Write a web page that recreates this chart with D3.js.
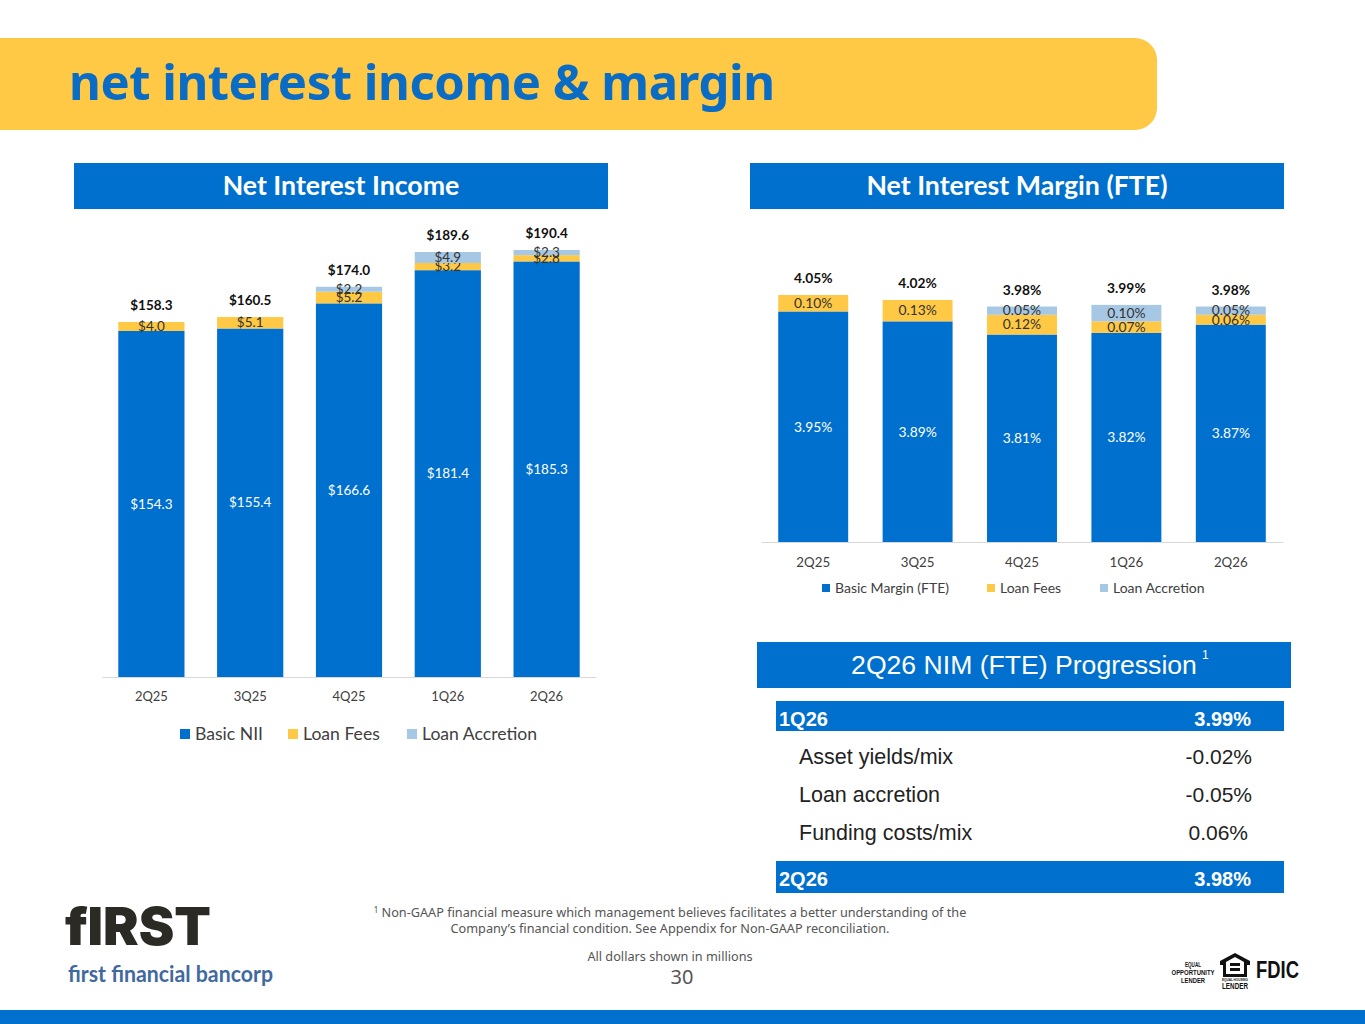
<!DOCTYPE html>
<html>
<head>
<meta charset="utf-8">
<title>net interest income & margin</title>
<script src="https://cdn.jsdelivr.net/npm/d3@7"></script>
<style>
  body { margin: 0; background: #fff; }
  svg { display: block; }
  text { font-family: Lato, sans-serif; }
  .arial text, text.arial { font-family: "Liberation Sans", Arial, sans-serif; }
  .head { font-family: Lato, sans-serif; font-weight: 700; fill: #fff; }
</style>
</head>
<body>
<svg id="slide" width="1365" height="1024"></svg>
<script>
const quarters = ['2Q25', '3Q25', '4Q25', '1Q26', '2Q26'];

// net interest income, $ millions
const basicNii = [154.3, 155.4, 166.6, 181.4, 185.3];
const niiFees = [4.0, 5.1, 5.2, 3.2, 2.8];
const niiAccretion = [0, 0, 2.2, 4.9, 2.3];
const niiTotals = [158.3, 160.5, 174.0, 189.6, 190.4];

// net interest margin, %
const basicMargin = [3.95, 3.89, 3.81, 3.82, 3.87];
const nimFees = [0.10, 0.13, 0.12, 0.07, 0.06];
const nimAccretion = [0, 0, 0.05, 0.10, 0.05];
const nimTotals = [4.05, 4.02, 3.98, 3.99, 3.98];

const progressionLabels = ['Asset yields/mix', 'Loan accretion', 'Funding costs/mix'];
const progressionValues = ['-0.02%', '-0.05%', '0.06%'];

const BLUE = '#0070ce', YELLOW = '#ffc845', LIGHT = '#a6c8e4';

const svg = d3.select('#slide');

// title band, square on the left and rounded on the right
svg.append('path')
  .attr('d', 'M0,38H1135a22,22 0 0 1 22,22V108a22,22 0 0 1 -22,22H0Z')
  .attr('fill', YELLOW);
svg.append('text')
  .attr('x', 69).attr('y', 100)
  .attr('font-size', 49).attr('font-weight', 700)
  .style('font-family', '"Noto Sans", sans-serif')
  .attr('fill', '#0a6cc4')
  .attr('textLength', 706)
  .text('net interest income & margin');

function sectionHeader(x, y, label, arial) {
  svg.append('rect').attr('x', x).attr('y', y).attr('width', 534).attr('height', 46).attr('fill', BLUE);
  svg.append('text')
    .attr('class', arial ? 'arial' : 'head')
    .attr('x', x + 267).attr('y', y + 32)
    .attr('text-anchor', 'middle')
    .attr('font-size', arial ? 26.6 : 26.7)
    .attr('fill', '#fff')
    .text(label);
}
sectionHeader(74, 163, 'Net Interest Income');
sectionHeader(750, 163, 'Net Interest Margin (FTE)');
sectionHeader(757, 642, '2Q26 NIM (FTE) Progression', true);
svg.append('text').attr('class', 'arial').attr('x', 1202).attr('y', 659)
  .attr('font-size', 12).attr('fill', '#fff').text('1');

function stackedChart(o) {
  const x = d3.scaleBand().domain(quarters).range(o.xRange).paddingInner(0.33).paddingOuter(0.165);
  const y = d3.scaleLinear().domain(o.yDomain).range(o.yRange).clamp(true);

  const rows = quarters.map((q, i) => ({ q, basic: o.basic[i], fees: o.fees[i], accretion: o.accretion[i] }));
  const layers = d3.stack().keys(['basic', 'fees', 'accretion'])(rows);
  const colors = { basic: BLUE, fees: YELLOW, accretion: LIGHT };

  const g = svg.append('g');
  const layer = g.selectAll('g.layer').data(layers).join('g').attr('class', 'layer');

  layer.selectAll('rect')
    .data(d => d.map(p => ({ key: d.key, p })))
    .join('rect')
    .attr('x', d => x(d.p.data.q))
    .attr('width', x.bandwidth())
    .attr('y', d => y(d.p[1]))
    .attr('height', d => y(d.p[0]) - y(d.p[1]))
    .attr('fill', d => colors[d.key]);

  // segment labels, small ones overlap each other just like the original
  layer.selectAll('text')
    .data(d => d.map(p => ({ key: d.key, p, v: p.data[d.key] })).filter(d => d.v > 0))
    .join('text')
    .attr('x', d => x(d.p.data.q) + x.bandwidth() / 2)
    .attr('y', d => (y(d.p[0]) + y(d.p[1])) / 2)
    .attr('dy', '0.35em')
    .attr('text-anchor', 'middle')
    .attr('font-size', o.labelSize)
    .attr('fill', d => d.key === 'basic' ? '#fff' : '#333')
    .text(d => o.fmt(d.v));

  g.selectAll('text.total')
    .data(o.totals)
    .join('text')
    .attr('class', 'total')
    .attr('x', (d, i) => x(quarters[i]) + x.bandwidth() / 2)
    .attr('y', (d, i) => y(o.basic[i] + o.fees[i] + o.accretion[i]) - 12)
    .attr('text-anchor', 'middle')
    .attr('font-size', o.labelSize)
    .attr('font-weight', 700)
    .attr('fill', '#111')
    .text(o.fmt);

  const axis = g.append('g')
    .attr('transform', `translate(0,${o.yRange[0]})`)
    .call(d3.axisBottom(x).tickSize(0).tickPadding(o.tickPad));
  axis.select('.domain').attr('stroke', '#d9d9d9');
  axis.selectAll('text').attr('font-size', o.labelSize - 0.5).attr('fill', '#404040')
    .style('font-family', 'Lato, sans-serif');

  const legend = g.selectAll('g.key').data(o.legend).join('g').attr('class', 'key')
    .attr('transform', d => `translate(${d.x},${o.legendY})`);
  legend.append('rect').attr('y', -o.legendBox / 2).attr('width', o.legendBox).attr('height', o.legendBox)
    .attr('fill', d => d.color);
  legend.append('text').attr('x', o.legendBox + 5).attr('dy', '0.35em')
    .attr('font-size', o.legendSize).attr('fill', '#404040').text(d => d.label);
}

stackedChart({
  basic: basicNii, fees: niiFees, accretion: niiAccretion, totals: niiTotals,
  xRange: [102, 596], yDomain: [0, 190.4], yRange: [677, 250],
  fmt: v => '$' + v.toFixed(1), labelSize: 13.5, tickPad: 15,
  legend: [
    { label: 'Basic NII', color: BLUE, x: 180 },
    { label: 'Loan Fees', color: YELLOW, x: 288 },
    { label: 'Loan Accretion', color: LIGHT, x: 407 }
  ],
  legendY: 734, legendBox: 10, legendSize: 17.6
});

stackedChart({
  basic: basicMargin, fees: nimFees, accretion: nimAccretion, totals: nimTotals,
  xRange: [761, 1283], yDomain: [2.55, 4.05], yRange: [542, 295],
  fmt: v => v.toFixed(2) + '%', labelSize: 13.8, tickPad: 16,
  legend: [
    { label: 'Basic Margin (FTE)', color: BLUE, x: 822 },
    { label: 'Loan Fees', color: YELLOW, x: 987 },
    { label: 'Loan Accretion', color: LIGHT, x: 1100 }
  ],
  legendY: 588, legendBox: 8, legendSize: 14
});

// progression table
const table = svg.append('g').attr('class', 'arial');
[['1Q26', '3.99%', 701, 30], ['2Q26', '3.98%', 861, 32]].forEach(r => {
  table.append('rect').attr('x', 776).attr('y', r[2]).attr('width', 508).attr('height', r[3]).attr('fill', BLUE);
  table.append('text').attr('x', 779).attr('y', r[2] + 25).attr('font-size', 20).attr('font-weight', 700).attr('fill', '#fff').text(r[0]);
  table.append('text').attr('x', 1251).attr('y', r[2] + 25).attr('text-anchor', 'end').attr('font-size', 20).attr('font-weight', 700).attr('fill', '#fff').text(r[1]);
});
const rowY = d3.scalePoint().domain(progressionLabels).range([764, 840]);
table.selectAll('text.lab').data(progressionLabels).join('text').attr('class', 'lab')
  .attr('x', 799).attr('y', d => rowY(d)).attr('font-size', 21.5).attr('fill', '#222').text(d => d);
table.selectAll('text.val').data(progressionValues).join('text').attr('class', 'val')
  .attr('x', (d, i) => i === 2 ? 1248 : 1252)
  .attr('y', (d, i) => rowY(progressionLabels[i]))
  .attr('text-anchor', 'end').attr('font-size', 21).attr('fill', '#222').text(d => d);

// footnotes
const foot = svg.append('g').attr('text-anchor', 'middle').attr('fill', '#555').attr('font-size', 12.7)
  .style('font-family', '"Noto Sans", sans-serif');
foot.append('text').attr('x', 670).attr('y', 917).style('font-family', 'inherit')
  .html('<tspan font-size="8" dy="-4">1</tspan><tspan dy="4"> Non-GAAP financial measure which management believes facilitates a better understanding of the</tspan>');
foot.append('text').attr('x', 670).attr('y', 933).style('font-family', 'inherit')
  .text('Company\u2019s financial condition.  See Appendix for Non-GAAP reconciliation.');
foot.append('text').attr('x', 670).attr('y', 961).style('font-family', 'inherit')
  .text('All dollars shown in millions');
foot.append('text').attr('x', 682).attr('y', 984).attr('font-size', 20).style('font-family', 'inherit').text('30');

// logo
svg.append('text').attr('x', 65).attr('y', 945).attr('font-size', 52).attr('font-weight', 900)
  .style('font-family', 'Inter, sans-serif').attr('fill', '#2b2a25').attr('textLength', 146)
  .attr('lengthAdjust', 'spacingAndGlyphs').text('fIRST');
svg.append('text').attr('x', 68).attr('y', 982).attr('font-size', 22).attr('font-weight', 700)
  .attr('fill', '#41699f').attr('textLength', 205).attr('lengthAdjust', 'spacingAndGlyphs')
  .text('first financial bancorp');

// lender badges
const badge = svg.append('g').attr('fill', '#111');
['EQUAL', 'OPPORTUNITY', 'LENDER'].forEach((t, i) => {
  badge.append('text').attr('class', 'arial').attr('x', 1193).attr('y', 967 + i * 8)
    .attr('text-anchor', 'middle').attr('font-size', 8).attr('font-weight', 700)
    .attr('textLength', [16, 43, 24][i]).attr('lengthAdjust', 'spacingAndGlyphs').text(t);
});
badge.append('path').attr('fill-rule', 'evenodd')
  .attr('d', 'M1235,953L1250,961V965H1247V977H1223V965H1220V961ZM1235,957L1226,962V974H1244V962ZM1230,963H1240V966H1230ZM1230,968H1240V971H1230Z');
badge.append('text').attr('class', 'arial').attr('x', 1235).attr('y', 981).attr('text-anchor', 'middle')
  .attr('font-size', 4).attr('font-weight', 700).attr('textLength', 26).attr('lengthAdjust', 'spacingAndGlyphs').text('EQUAL HOUSING');
badge.append('text').attr('class', 'arial').attr('x', 1235).attr('y', 989).attr('text-anchor', 'middle')
  .attr('font-size', 9).attr('font-weight', 700).attr('textLength', 26).attr('lengthAdjust', 'spacingAndGlyphs').text('LENDER');
badge.append('text').attr('class', 'arial').attr('x', 1256).attr('y', 978).attr('font-size', 23).attr('font-weight', 700)
  .attr('textLength', 43).attr('lengthAdjust', 'spacingAndGlyphs').text('FDIC');

svg.append('rect').attr('x', 0).attr('y', 1010).attr('width', 1365).attr('height', 14).attr('fill', BLUE);
</script>
</body>
</html>
